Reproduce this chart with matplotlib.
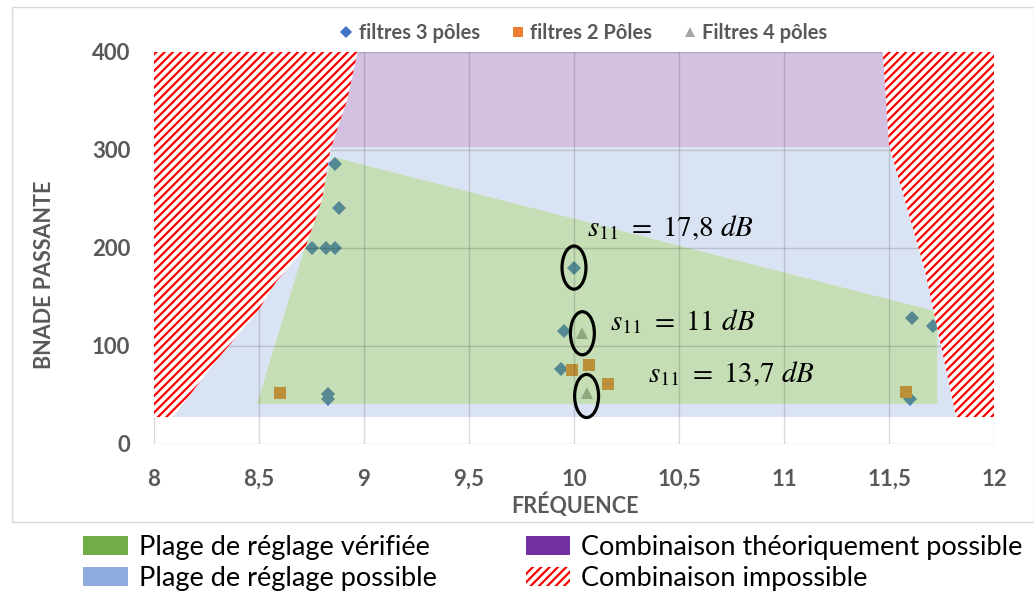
import numpy as np
import matplotlib.pyplot as plt
from matplotlib.patches import Polygon, Ellipse, Patch, Rectangle
from matplotlib.lines import Line2D

plt.rcParams['font.family'] = ['Lato', 'DejaVu Sans']
plt.rcParams['mathtext.fontset'] = 'stix'
plt.rcParams['hatch.linewidth'] = 1.6
plt.rcParams['hatch.color'] = 'red'

# Measured filters (frequence, bande passante)
f3_freq = [8.86, 8.88, 8.75, 8.82, 8.86, 8.83, 8.83, 10.00, 9.95, 9.94, 11.61, 11.71, 11.60]
f3_band = [286, 241, 200, 200, 200, 51, 46, 180, 115, 77, 129, 120, 46]
f2_freq = [8.60, 9.99, 10.07, 10.16, 11.58]
f2_band = [52, 76, 81, 61, 53]
f4_freq = [10.04, 10.06]
f4_band = [113, 52]

# Zones
verified_freq = [8.49, 8.85, 11.73, 11.73]
verified_band = [41, 293, 135, 41]
possible_band = [27.5, 303]
theory_band = [303, 400]
left_imp_freq = [8.0, 8.0, 8.09, 8.30, 8.49, 8.58, 8.66, 8.72, 8.80, 8.84, 8.92, 8.97]
left_imp_band = [400, 27.5, 27.5, 86, 134, 165, 185, 200, 249, 300, 351, 400]
right_imp_freq = [11.47, 11.50, 11.67, 11.82, 12.0, 12.0]
right_imp_band = [400, 305, 178, 27.5, 27.5, 400]

# s11 highlights
s11_values = ['17,8', '11', '13,7']
s11_freq = [10.00, 10.04, 10.06]
s11_band = [180, 113, 49]
s11_text_freq = [10.06, 10.17, 10.35]
s11_text_band = [212, 116, 63]

x_ticks = [8, 8.5, 9, 9.5, 10, 10.5, 11, 11.5, 12]
y_ticks = [0, 100, 200, 300, 400]

legend_bottom = ['Plage de réglage vérifiée', 'Plage de réglage possible',
                 'Combinaison théoriquement possible', 'Combinaison impossible']
legend_top = ['filtres 3 pôles', 'filtres 2 Pôles', 'Filtres 4 pôles']

gray = '#595959'

fig = plt.figure(figsize=(10.34, 5.95), dpi=100)
ax = fig.add_axes([154/1034, 1 - 444/595, 840/1034, 392/595])

# Background zones
ax.fill_between([8, 12], *possible_band, color='#dae3f3', lw=0, zorder=0.2)
ax.fill_between([8, 12], *theory_band, color='#d4c1e2', lw=0, zorder=0.2)

verified_xy = np.column_stack([verified_freq, verified_band])
ax.add_patch(Polygon(verified_xy, closed=True, fc='white', lw=0, zorder=0.3))

# Points
ax.plot(f3_freq, f3_band, 'D', color='#4472C4', ms=7, mew=0, zorder=0.4)
ax.plot(f2_freq, f2_band, 's', color='#ED7D31', ms=8, mew=0, zorder=0.4)
ax.plot(f4_freq, f4_band, '^', color='#A5A5A5', ms=9, mew=0, zorder=0.4)

# Verified zone on top of the points
ax.add_patch(Polygon(verified_xy, closed=True, fc='#70AD47', alpha=0.4, lw=0, zorder=0.5))

# Impossible combinations
for fx, by in [(left_imp_freq, left_imp_band), (right_imp_freq, right_imp_band)]:
    ax.add_patch(Polygon(np.column_stack([fx, by]), closed=True, fc='white',
                         ec='red', hatch='////', lw=0, zorder=3))

# s11 ellipses and labels
for v, x, y, tx, ty in zip(s11_values, s11_freq, s11_band, s11_text_freq, s11_text_band):
    ax.add_patch(Ellipse((x, y), width=0.114, height=44, fill=False, ec='black', lw=2.3, zorder=4))
    ax.text(tx, ty, r'$s_{11}\ =\ %s\ dB$' % v.replace(',', '{,}'), fontsize=21,
            ha='left', va='baseline', zorder=5)

# Axes
ax.set_xlim(8, 12)
ax.set_ylim(0, 400)
ax.set_xticks(x_ticks)
ax.set_xticklabels([('%g' % t).replace('.', ',') for t in x_ticks])
ax.set_yticks(y_ticks)
ax.set_axisbelow(False)
ax.grid(True, color='black', alpha=0.15, lw=1)
for s in ax.spines.values():
    s.set_visible(False)
ax.tick_params(axis='y', length=0, pad=17, labelsize=16, labelcolor=gray)
ax.tick_params(axis='x', length=0, pad=18, labelsize=16, labelcolor=gray)
for lab in ax.get_xticklabels() + ax.get_yticklabels():
    lab.set_fontweight('bold')

fig.text(45/1034, 1 - 275/595, 'BNADE PASSANTE', rotation=90, ha='center', va='center',
         fontsize=15.5, fontweight='bold', color=gray)
fig.text(575/1034, 1 - 505/595, 'FRÉQUENCE', ha='center', va='center',
         fontsize=15.5, fontweight='bold', color=gray)

# Chart frame
fig.add_artist(Rectangle((12/1034, 1 - 522/595), 1 - 12/1034, 515/595,
                         transform=fig.transFigure, fill=False, ec='#d9d9d9', lw=1))

# Top legend
top_handles = [Line2D([], [], marker='D', color='#4472C4', ls='', ms=6, mew=0),
               Line2D([], [], marker='s', color='#ED7D31', ls='', ms=7, mew=0),
               Line2D([], [], marker='^', color='#A5A5A5', ls='', ms=7, mew=0)]
fig.legend(top_handles, legend_top, loc='center', bbox_to_anchor=(582/1034, 1 - 33/595),
           ncol=3, frameon=False, prop=dict(weight='bold', size=14.5), labelcolor=gray,
           handletextpad=0.1, columnspacing=1.4, handlelength=1)

# Bottom legend
bottom_handles = [Patch(fc='#70AD47', lw=0), Patch(fc='#8FAADC', lw=0),
                  Patch(fc='#7030A0', lw=0), Patch(fc='white', ec='red', hatch='////', lw=0)]
fig.legend(bottom_handles, legend_bottom, loc='upper left', bbox_to_anchor=(83/1034, 1 - 535/595),
           ncol=2, frameon=False, fontsize=19.5, handlelength=1.65, handleheight=0.75,
           handletextpad=0.4, columnspacing=3.3, labelspacing=0.22, borderaxespad=0, borderpad=0)

fig.savefig('out.png', dpi=100)
